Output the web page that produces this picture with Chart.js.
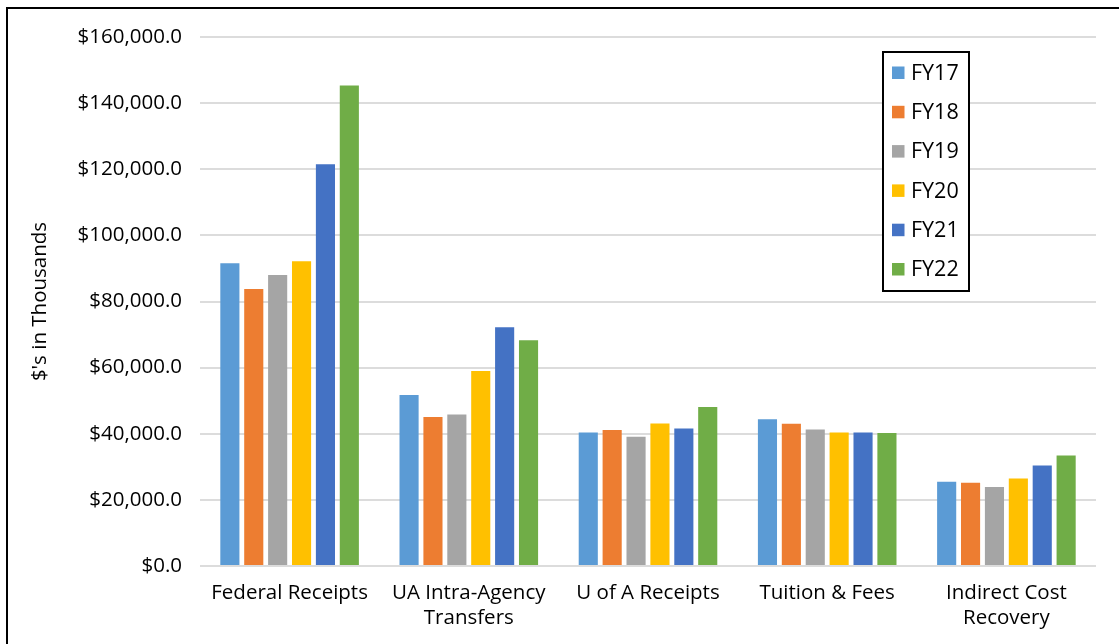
<!DOCTYPE html>
<html>
<head>
<meta charset="utf-8">
<script src="https://cdn.jsdelivr.net/npm/chart.js@4/dist/chart.umd.min.js"></script>
<style>
  html, body { margin: 0; padding: 0; background: #fff; overflow: hidden; }
  #wrap { position: relative; width: 1119px; height: 644px; }
  #frame { position: absolute; left: 6px; top: 7px; width: 1200px; height: 700px;
           border-left: 2px solid #000; border-top: 2px solid #000; }
  canvas { position: absolute; left: 0; top: 0; }
</style>
</head>
<body>
<div id="wrap">
  <div id="frame"></div>
  <canvas id="chart" width="1119" height="644"></canvas>
</div>
<script>
const categories = [
    "Federal Receipts",
    ["UA Intra-Agency", "Transfers"],
    "U of A Receipts",
    "Tuition & Fees",
    ["Indirect Cost", "Recovery"]
];

const years = ["FY17", "FY18", "FY19", "FY20", "FY21", "FY22"];

const fy17 = [91600, 51700, 40400, 44400, 25500];
const fy18 = [83800, 45100, 41100, 43000, 25200];
const fy19 = [88000, 45800, 39100, 41300, 23900];
const fy20 = [92200, 59000, 43100, 40400, 26500];
const fy21 = [121500, 72200, 41600, 40400, 30400];
const fy22 = [145300, 68300, 48100, 40200, 33400];

const colors = ["#5B9BD5", "#ED7D31", "#A5A5A5", "#FFC000", "#4472C4", "#70AD47"];

const series = [fy17, fy18, fy19, fy20, fy21, fy22];

const font = "'Open Sans', sans-serif";

// legend box drawn inside the plot, like the Excel one
const boxLegend = {
    id: "boxLegend",
    afterDraw(chart) {
        const ctx = chart.ctx;
        const left = 883, top = 52, w = 86, h = 239;
        ctx.save();
        ctx.fillStyle = "#fff";
        ctx.fillRect(left, top, w, h);
        ctx.strokeStyle = "#000";
        ctx.lineWidth = 2;
        ctx.strokeRect(left, top, w, h);
        ctx.font = "21.5px " + font;
        ctx.textBaseline = "middle";
        chart.data.datasets.forEach((ds, i) => {
            const y = 72.5 + i * 39.3;
            ctx.fillStyle = ds.backgroundColor;
            ctx.fillRect(892, y - 6, 12.5, 12.5);
            ctx.fillStyle = "#000";
            ctx.fillText(ds.label, 911, y + 1);
        });
        ctx.restore();
    }
};

const data = {
    labels: categories,
    datasets: years.map((y, i) => ({
        label: y,
        data: series[i],
        backgroundColor: colors[i],
        borderWidth: 0,
        categoryPercentage: 0.8,
        barPercentage: 0.8
    }))
};

const config = {
    type: "bar",
    data: data,
    options: {
        responsive: false,
        animation: false,
        layout: { padding: { left: 0, right: 23, top: 37, bottom: 0 } },
        plugins: {
            legend: { display: false },
            tooltip: { enabled: false }
        },
        scales: {
            x: {
                grid: { display: false },
                border: { display: false },
                ticks: {
                    color: "#000",
                    font: { family: font, size: 20.5, lineHeight: 1.22 },
                    padding: 7,
                    maxRotation: 0,
                    autoSkip: false
                },
                afterFit(scale) { scale.height = 78; }
            },
            y: {
                min: 0,
                max: 160000,
                grid: { color: "#dcdcdc", lineWidth: 2, drawTicks: false },
                border: { display: false },
                ticks: {
                    stepSize: 20000,
                    color: "#000",
                    padding: 18,
                    font: { family: font, size: 20.5 },
                    callback: v => "$" + v.toLocaleString("en-US", { minimumFractionDigits: 1, maximumFractionDigits: 1 })
                },
                title: {
                    display: true,
                    text: "$'s in Thousands",
                    color: "#000",
                    font: { family: font, size: 20.5, lineHeight: 1.2 },
                    padding: { top: 28, bottom: 0 }
                },
                afterFit(scale) { scale.width = 200; }
            }
        }
    },
    plugins: [boxLegend]
};

document.fonts.load("20px 'Open Sans'").then(() => {
    new Chart(document.getElementById("chart"), config);
});
</script>
</body>
</html>
